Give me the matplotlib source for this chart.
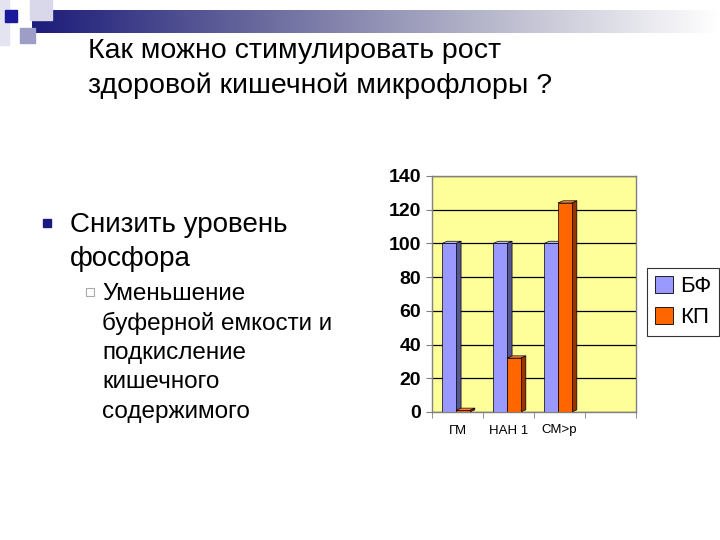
import matplotlib.pyplot as plt
import numpy as np
from matplotlib.patches import Rectangle, Polygon, Patch
from matplotlib.colors import LinearSegmentedColormap

plt.rcParams['font.family'] = ['Liberation Sans', 'DejaVu Sans']

# chart data
categories = ['ГМ', 'НАН 1', 'СМ>р', '']
bf = [100, 100, 100, 0]
kp = [1, 32, 124, 0]
series_names = ['БФ', 'КП']

title_lines = ['Как можно стимулировать рост', 'здоровой кишечной микрофлоры ?']
bullet_lines = ['Снизить уровень', 'фосфора']
sub_lines = ['Уменьшение', 'буферной емкости и', 'подкисление', 'кишечного', 'содержимого']

fig = plt.figure(figsize=(7.2, 5.4), dpi=100)
fig.patch.set_facecolor('white')

# slide decoration (pixel coords on a 720x540 overlay)
deco = fig.add_axes([0, 0, 1, 1])
deco.axis('off')
grad = np.linspace(0, 1, 256).reshape(1, -1)
cmap = LinearSegmentedColormap.from_list('bar', ['#1c1c7a', '#6a6a9e', '#b8b8cc', '#ffffff'])
deco.imshow(grad, cmap=cmap, extent=[32, 720, 33, 10], aspect='auto')
deco.add_patch(Rectangle((0, 0), 9, 45, color='#e4e4f0'))
deco.add_patch(Rectangle((30, 0), 22, 20, color='#d8d8ea'))
deco.add_patch(Rectangle((20, 28), 15, 15, color='#9d9dc8'))
deco.add_patch(Rectangle((5, 10), 12, 12, color='#1a1a9a'))
deco.set_xlim(0, 720)
deco.set_ylim(540, 0)

# title
for i, line in enumerate(title_lines):
    fig.text(88 / 720, 1 - (51 + 35 * i) / 540, line, fontsize=20.5, va='center', ha='left')

# bullets
deco.add_patch(Rectangle((43, 219), 8, 8, color='#1a1a80'))
for i, line in enumerate(bullet_lines):
    fig.text(70 / 720, 1 - (225 + 34 * i) / 540, line, fontsize=20, va='center', ha='left')
deco.add_patch(Rectangle((86, 288), 8, 8, facecolor='white', edgecolor='#aaaaaa', lw=0.8))
for i, line in enumerate(sub_lines):
    fig.text(102 / 720, 1 - (294 + 29.5 * i) / 540, line, fontsize=17.5, va='center', ha='left')

# chart
ax = fig.add_axes([432 / 720, 1 - 412 / 540, 204 / 720, 236 / 540])
ax.set_facecolor('#ffff99')
ax.set_xlim(-0.5, len(categories) - 0.5)
ax.set_ylim(0, 140)
ax.set_yticks(range(0, 141, 20))
ax.yaxis.grid(True, color='black', lw=0.9)
ax.set_axisbelow(True)
for s in ax.spines.values():
    s.set_color('#808080')
    s.set_linewidth(1.0)

x = np.arange(len(categories))
w = 0.27
dx, dy = 0.1, 1.3
faces = [('#9999ff', '#55558f', '#b8b8ff'), ('#ff6600', '#993300', '#ff8c40')]
offsets = [-0.30, -0.03]
for vals, off, (fc, sc, tc) in zip([bf, kp], offsets, faces):
    for xi, v in zip(x, vals):
        if v <= 0:
            continue
        l = xi + off
        ax.add_patch(Polygon([(l + w, 0), (l + w + dx, dy), (l + w + dx, v + dy), (l + w, v)],
                             closed=True, facecolor=sc, edgecolor='black', lw=0.5, zorder=3))
        ax.add_patch(Polygon([(l, v), (l + w, v), (l + w + dx, v + dy), (l + dx, v + dy)],
                             closed=True, facecolor=tc, edgecolor='black', lw=0.5, zorder=3))
        ax.add_patch(Rectangle((l, 0), w, v, facecolor=fc, edgecolor='black', lw=0.5, zorder=3))

ax.set_xticks(x)
ax.set_xticklabels(categories, fontsize=9.5)
ax.set_xticks(np.arange(-0.5, len(categories), 1), minor=True)
ax.tick_params(axis='x', which='major', length=0, pad=9)
ax.tick_params(axis='x', which='minor', length=4, direction='out', color='#808080')
ax.tick_params(axis='y', length=4, direction='out', color='#808080', pad=4)
for lab in ax.get_yticklabels():
    lab.set_fontweight('bold')
    lab.set_fontsize(14)

handles = [Patch(facecolor=faces[0][0], edgecolor='black', lw=0.6),
           Patch(facecolor=faces[1][0], edgecolor='black', lw=0.6)]
leg = fig.legend(handles, series_names, loc='upper left', bbox_to_anchor=(647 / 720, 1 - 268 / 540),
                 fontsize=16, frameon=True, fancybox=False, handlelength=0.8, handleheight=0.8,
                 handletextpad=0.35, borderpad=0.35, labelspacing=0.45, borderaxespad=0)
leg.get_frame().set_edgecolor('black')
leg.get_frame().set_linewidth(0.8)

fig.savefig('out.png', dpi=100)
